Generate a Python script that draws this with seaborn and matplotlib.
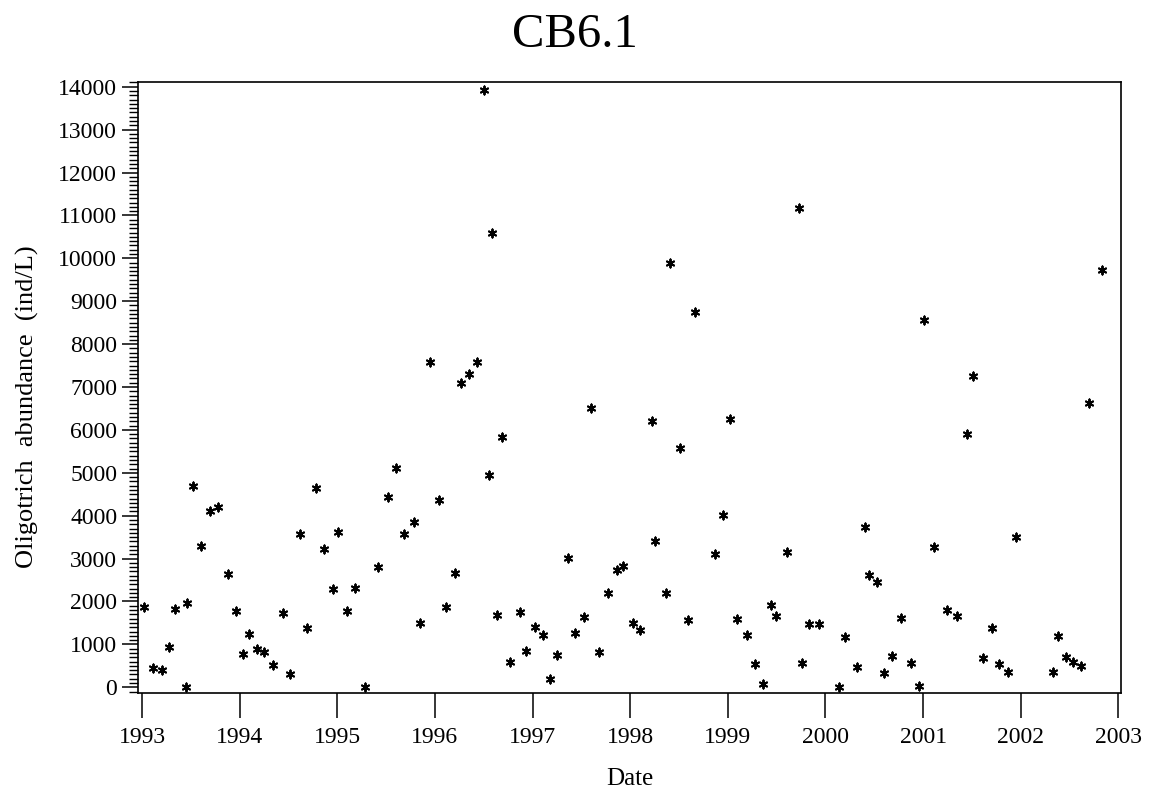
import pandas as pd
import seaborn as sns
import matplotlib.pyplot as plt
import matplotlib.dates as mdates
from matplotlib.ticker import MultipleLocator

dates = [
    "1993-01-06", "1993-02-11", "1993-03-16", "1993-04-10", "1993-05-05", "1993-06-14",
    "1993-06-16", "1993-07-11", "1993-08-07", "1993-09-11", "1993-10-11", "1993-11-18",
    "1993-12-18", "1994-01-12", "1994-02-03", "1994-03-05", "1994-04-02", "1994-05-04",
    "1994-06-10", "1994-07-09", "1994-08-14", "1994-09-11", "1994-10-13", "1994-11-12",
    "1994-12-14", "1995-01-04", "1995-02-05", "1995-03-07", "1995-04-16", "1995-06-03",
    "1995-07-10", "1995-08-07", "1995-09-06", "1995-10-13", "1995-11-08", "1995-12-12",
    "1996-01-18", "1996-02-10", "1996-03-17", "1996-04-08", "1996-05-09", "1996-06-07",
    "1996-07-04", "1996-07-21", "1996-08-02", "1996-08-20", "1996-09-07", "1996-10-09",
    "1996-11-15", "1996-12-08", "1997-01-08", "1997-02-08", "1997-03-05", "1997-04-01",
    "1997-05-13", "1997-06-09", "1997-07-11", "1997-08-08", "1997-09-05", "1997-10-11",
    "1997-11-12", "1997-12-05", "1998-01-11", "1998-02-08", "1998-03-22", "1998-04-03",
    "1998-05-14", "1998-05-31", "1998-07-05", "1998-08-04", "1998-08-30", "1998-11-14",
    "1998-12-14", "1999-01-08", "1999-02-06", "1999-03-14", "1999-04-13", "1999-05-13",
    "1999-06-13", "1999-07-02", "1999-08-09", "1999-09-24", "1999-10-04", "1999-11-01",
    "1999-12-09", "2000-02-20", "2000-03-14", "2000-04-27", "2000-05-28", "2000-06-13",
    "2000-07-11", "2000-08-07", "2000-09-08", "2000-10-11", "2000-11-15", "2000-12-16",
    "2001-01-03", "2001-02-10", "2001-04-01", "2001-05-06", "2001-06-12", "2001-07-07",
    "2001-08-11", "2001-09-15", "2001-10-12", "2001-11-13", "2001-12-14", "2002-04-30",
    "2002-05-21", "2002-06-18", "2002-07-16", "2002-08-13", "2002-09-13", "2002-10-31",
]
abundance = [
    1879, 443, 403, 932, 1818, 0,
    1958, 4699, 3301, 4110, 4203, 2648,
    1786, 783, 1242, 886, 816, 520,
    1725, 310, 3573, 1375, 4639, 3224,
    2284, 3620, 1779, 2322, 14, 2811,
    4443, 5119, 3573, 3860, 1492, 7590,
    4366, 1879, 2671, 7100, 7303, 7590,
    13923, 4956, 10597, 1678, 5828, 583,
    1762, 853, 1413, 1226, 200, 746,
    3014, 1259, 1646, 6511, 823, 2205,
    2734, 2828, 1506, 1336, 6215, 3417,
    2191, 9897, 5585, 1569, 8741, 3100,
    4016, 6247, 1585, 1212, 543, 77,
    1918, 1662, 3147, 11165, 573, 1475,
    1475, 14, 1180, 466, 3744, 2618,
    2461, 340, 730, 1615, 573, 37,
    8562, 3277, 1802, 1662, 5904, 7263,
    676, 1375, 543, 350, 3497, 350,
    1196, 699, 597, 503, 6620, 9727,
]

df = pd.DataFrame({"date": pd.to_datetime(dates), "abundance": abundance})

sns.set_theme(style="ticks")
plt.rcParams["font.family"] = ["Liberation Serif", "DejaVu Serif"]

fig = plt.figure(figsize=(11.49, 7.94), dpi=100)
ax = fig.add_axes([0.1201, 0.1276, 0.8553, 0.7695])

sns.scatterplot(data=df, x="date", y="abundance", ax=ax, marker=(6, 2, 0),
                color="black", s=34, linewidth=1.4, legend=False)

ax.set_xlim(pd.Timestamp("1992-12-16"), pd.Timestamp("2003-01-10"))
ax.set_ylim(-126, 14117)
ax.xaxis.set_major_locator(mdates.YearLocator())
ax.xaxis.set_major_formatter(mdates.DateFormatter("%Y"))
ax.yaxis.set_major_locator(MultipleLocator(1000))
ax.yaxis.set_minor_locator(MultipleLocator(100))

for sp in ax.spines.values():
    sp.set_visible(True)
    sp.set_color("black")
    sp.set_linewidth(1.2)

ax.tick_params(axis="x", which="major", length=18, width=1.1, pad=7,
               labelsize=17, color="black", labelcolor="black")
ax.tick_params(axis="y", which="major", length=11.5, width=1.1, pad=3.5,
               labelsize=17, color="black", labelcolor="black")
ax.tick_params(axis="y", which="minor", length=6.5, width=1.0, color="black")

ax.set_xlabel("Date", fontsize=18, labelpad=14, color="black")
ax.set_ylabel("Oligotrich  abundance  (ind/L)", fontsize=19, color="black")
ax.yaxis.set_label_coords(-0.101, 0.468)
fig.text(0.5, 1 - 47.3 / 794, "CB6.1", fontsize=35, ha="center", va="baseline",
         color="black")

fig.savefig("out.png", dpi=100, facecolor="white")
